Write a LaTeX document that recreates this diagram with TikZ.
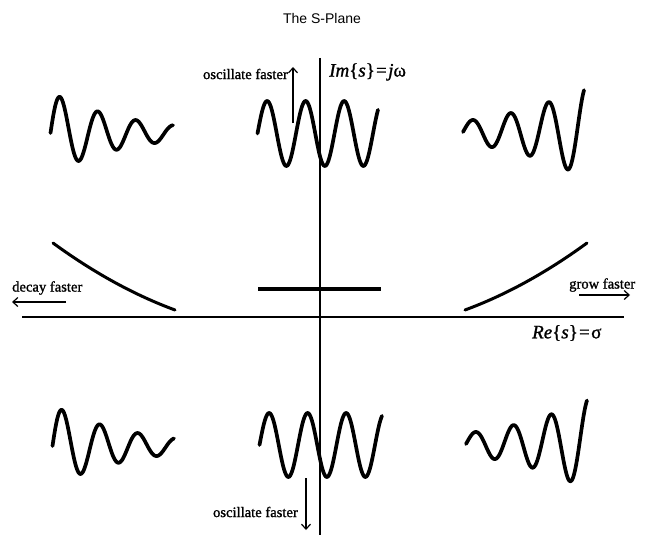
\documentclass[tikz,border=0pt]{standalone}
\usepackage{fontspec}
\setmainfont{Liberation Serif}
\newfontfamily\titlefont{Liberation Sans}
\newfontfamily\lblfont[FakeBold=1.2]{Liberation Serif}
\usetikzlibrary{arrows.meta}
\begin{document}
\begin{tikzpicture}[x=1pt,y=-1pt,
  axis/.style={line width=1.3pt},
  wave/.style={line width=3.7pt, line join=round, line cap=round},
  env/.style={line width=3pt, line cap=round},
  lbl/.style={font=\lblfont\fontsize{14.6}{16}\selectfont, inner sep=0pt},
  dirarrow/.style={line width=1.2pt, -{Straight Barb[length=5pt,width=9pt]}},
  mathlbl/.style={font=\lblfont\fontsize{19}{22}\selectfont\itshape, inner sep=0pt}]
\useasboundingbox (0,0) rectangle (670,535);
% title
\node[font=\titlefont\fontsize{14}{16}\selectfont, inner sep=0pt] (title) at (322,18) {The S-Plane};
% axes
\coordinate (vtop) at (320,58);
\coordinate (vbot) at (320,535);
\coordinate (hleft) at (22,317);
\coordinate (hright) at (624,317);
\draw[axis] (vtop) -- (vbot);
\draw[axis] (hleft) -- (hright);
\node[mathlbl, anchor=west] (imlbl) at (329,72) {Im{\upshape\{}s{\upshape\}}={\kern0.5pt}j{\upshape ω}};
\node[mathlbl, anchor=west] (relbl) at (532,333) {Re{\upshape\{}s{\upshape\}}={\kern0.5pt}{\upshape σ}};
% top row waves
\draw[wave] plot[domain=50.5:173, samples=160, smooth] (\x, {133 - 41*exp(-0.0135*(\x-50.5))*sin(9.47368*(\x-50.5))});
\draw[wave] plot[domain=257.5:378, samples=160, smooth] (\x, {133.5 - 32.5*sin(9.35065*(\x-257.5))});
\draw[wave] plot[domain=463:584, samples=160, smooth] (\x, {132 - 10.7*exp(0.012*(\x-463))*sin(9.47368*(\x-463))});
% bottom row waves
\draw[wave] plot[domain=52.5:174, samples=160, smooth] (\x, {446 - 41*exp(-0.0135*(\x-52.5))*sin(9.47368*(\x-52.5))});
\draw[wave] plot[domain=259.5:382, samples=160, smooth] (\x, {445 - 32*sin(9.35065*(\x-259.5))});
\draw[wave] plot[domain=466:587, samples=160, smooth] (\x, {444 - 10.7*exp(0.012*(\x-466))*sin(9.52381*(\x-466))});
% envelopes on the real axis
\coordinate (dl0) at (53,243);
\coordinate (dl1) at (175,310);
\draw[env] (dl0) .. controls (93.7,272.7) and (134.3,295) .. (dl1);
\coordinate (gr0) at (465,310);
\coordinate (gr1) at (587,243);
\draw[env] (gr0) .. controls (505.7,295) and (546.3,272.7) .. (gr1);
\coordinate (fl0) at (258,289);
\coordinate (fl1) at (381,289);
\draw[env, line cap=butt, line width=3.4pt] (fl0) -- (fl1);
% direction labels
\node[lbl, anchor=east] (oftop) at (288,74) {oscillate faster};
\coordinate (uaS) at (293,123);
\coordinate (uaE) at (293,67);
\draw[dirarrow] (uaS) -- (uaE);
\node[lbl, anchor=east] (ofbot) at (298,512) {oscillate faster};
\coordinate (daS) at (306,478);
\coordinate (daE) at (306,530);
\draw[dirarrow] (daS) -- (daE);
\node[lbl, anchor=west] (decay) at (12,288) {decay faster};
\coordinate (laS) at (66,302);
\coordinate (laE) at (12,302);
\draw[dirarrow] (laS) -- (laE);
\node[lbl, anchor=west] (grow) at (569,285) {grow faster};
\coordinate (raS) at (579,295);
\coordinate (raE) at (630,295);
\draw[dirarrow] (raS) -- (raE);
\end{tikzpicture}
\end{document}
